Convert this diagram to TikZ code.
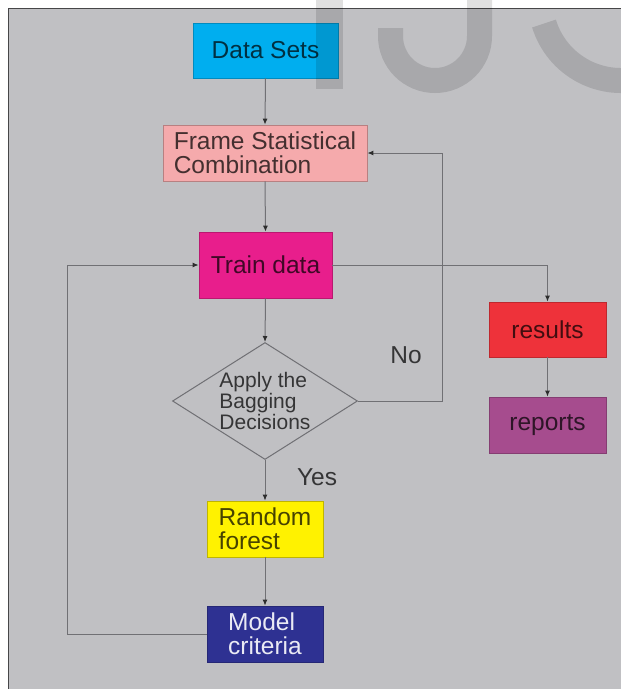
\documentclass[tikz,border=0pt]{standalone}
\usepackage{fontspec}
\setmainfont{Liberation Sans}
\usetikzlibrary{arrows.meta,shapes.geometric}
\definecolor{bgc}{RGB}{192,192,195}
\definecolor{bordc}{RGB}{70,70,72}
\definecolor{linec}{RGB}{112,112,116}
\definecolor{tipc}{RGB}{45,45,45}
\definecolor{cyanc}{RGB}{0,174,239}
\definecolor{pinkc}{RGB}{245,170,172}
\definecolor{magc}{RGB}{232,30,140}
\definecolor{redc}{RGB}{238,50,58}
\definecolor{purpc}{RGB}{166,76,142}
\definecolor{yelc}{RGB}{255,242,0}
\definecolor{navyc}{RGB}{46,49,146}
\begin{document}
\begin{tikzpicture}[x=1pt,y=-1pt,
  box/.style={rectangle, inner sep=0pt, align=left, line width=0.8pt,
    font=\fontsize{24.5}{24}\selectfont, text=black, text opacity=0.72},
  lbl/.style={inner sep=0pt, font=\fontsize{24.5}{24}\selectfont, text=black, text opacity=0.72},
  dectext/.style={inner sep=0pt, align=left, font=\fontsize{21}{19.5}\selectfont, text=black, text opacity=0.72},
  decision/.style={diamond, draw=linec, line width=1pt, inner sep=0pt},
  conn/.style={draw=linec, line width=1pt},
  arr/.style={conn, -{Latex[length=6pt,width=5pt,color=tipc]}},
  wm/.style={black, opacity=0.12}]
\useasboundingbox (0,0) rectangle (621,689);
% background
\fill[bgc] (8,8) rectangle (621,689);
\draw[bordc, line width=1.5pt] (8.5,689) -- (8.5,8.5) -- (621,8.5);

% nodes
\node[box, fill=cyanc, draw=cyanc!80!black, minimum width=145pt, minimum height=55pt] (ds) at (265.5,50.5) {Data Sets};
\node[box, fill=pinkc, draw=pinkc!75!black, minimum width=204pt, minimum height=56pt] (fr) at (265,153) {Frame Statistical\\Combination};
\node[box, fill=magc, draw=magc!80!black, minimum width=133pt, minimum height=66pt] (tr) at (265.5,265) {Train data};
\node[box, fill=redc, draw=redc!80!black, minimum width=117pt, minimum height=55pt] (res) at (547.5,329.5) {results};
\node[box, fill=purpc, draw=purpc!80!black, minimum width=117pt, minimum height=56pt] (rep) at (547.5,425) {reports};
\node[decision, minimum width=185pt, minimum height=117pt] (dec) at (265,401) {};
\node[dectext] (dect) at (dec.center) {Apply the\\Bagging\\Decisions};
\node[box, fill=yelc, draw=yelc!75!black, minimum width=116pt, minimum height=56pt] (rf) at (265,529) {Random\\forest};
\node[box, fill=navyc, draw=navyc!80!black, minimum width=116pt, minimum height=56pt, text=white, text opacity=0.9] (mc) at (265,634) {Model\\criteria};
\node[lbl] (no) at (406,355) {No};
\node[lbl] (yes) at (317,477) {Yes};

% connectors
\draw[arr] (ds.south) -- (fr.north);
\draw[arr] (fr.south) -- (tr.north);
\draw[arr] (tr.east) -| (res.north);
\draw[arr] (res.south) -- (rep.north);
\draw[arr] (tr.south) -- (dec.north);
\draw[arr] (dec.east) -- ++(84,0) |- (fr.east);
\draw[arr] (dec.south) -- (rf.north);
\draw[arr] (rf.south) -- (mc.north);
\draw[arr] (mc.west) -- ++(-139,0) |- (tr.west);

% watermark
\begin{scope}
\clip (0,0) rectangle (621,689);
\fill[wm] (316,-2) rectangle (343,89);
\draw[wm, line width=25pt] (479.5,-2) -- (479.5,36) arc[start angle=0, end angle=180, radius=44.5] -- (390.5,28);
\draw[wm, line width=25pt] (621,0) ++(163:80.5) arc[start angle=163, end angle=40, radius=80.5];
\end{scope}
\end{tikzpicture}
\end{document}
